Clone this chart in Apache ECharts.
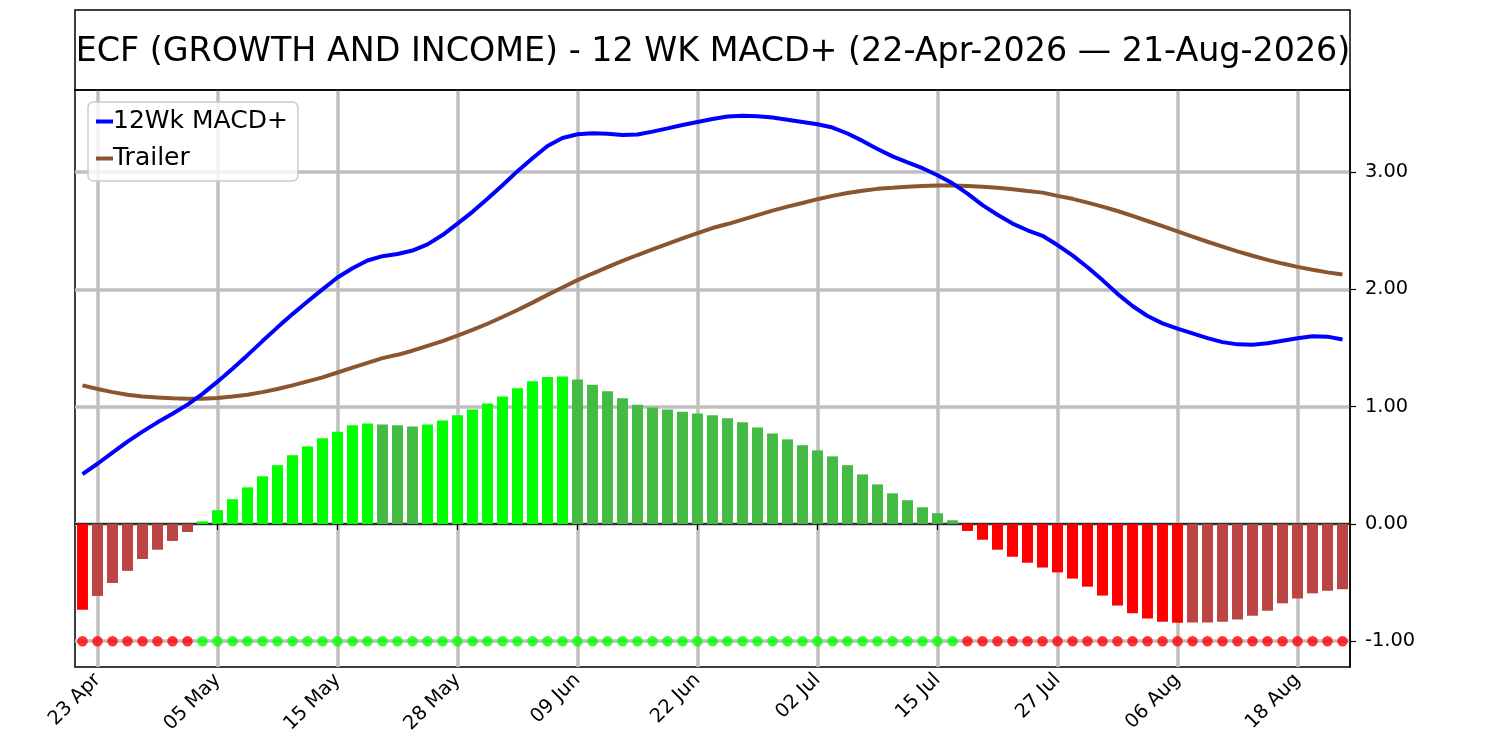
<!DOCTYPE html>
<html>
<head>
<meta charset="utf-8">
<script src="https://cdn.jsdelivr.net/npm/echarts@6/dist/echarts.min.js"></script>
<style>
  html, body { margin: 0; padding: 0; background: #fff; }
  #main { width: 1500px; height: 750px; }
</style>
</head>
<body>
<div id="main"></div>
<script>
const dates = [
  '22 Apr', '23 Apr', '24 Apr', '27 Apr', '28 Apr', '29 Apr', '30 Apr', '01 May',
  '04 May', '05 May', '06 May', '07 May', '08 May', '11 May', '12 May', '13 May',
  '14 May', '15 May', '18 May', '19 May', '20 May', '21 May', '22 May', '26 May',
  '27 May', '28 May', '29 May', '01 Jun', '02 Jun', '03 Jun', '04 Jun', '05 Jun',
  '08 Jun', '09 Jun', '10 Jun', '11 Jun', '12 Jun', '15 Jun', '16 Jun', '17 Jun',
  '18 Jun', '22 Jun', '23 Jun', '24 Jun', '25 Jun', '26 Jun', '29 Jun', '30 Jun',
  '01 Jul', '02 Jul', '06 Jul', '07 Jul', '08 Jul', '09 Jul', '10 Jul', '13 Jul',
  '14 Jul', '15 Jul', '16 Jul', '17 Jul', '20 Jul', '21 Jul', '22 Jul', '23 Jul',
  '24 Jul', '27 Jul', '28 Jul', '29 Jul', '30 Jul', '31 Jul', '03 Aug', '04 Aug',
  '05 Aug', '06 Aug', '07 Aug', '10 Aug', '11 Aug', '12 Aug', '13 Aug', '14 Aug',
  '17 Aug', '18 Aug', '19 Aug', '20 Aug', '21 Aug'
]

// 12Wk MACD+ (blue)
const macd = [
  0.425, 0.513, 0.608, 0.702, 0.787, 0.866, 0.939, 1.017, 1.109, 1.213,
  1.323, 1.439, 1.559, 1.676, 1.789, 1.896, 2.000, 2.101, 2.180, 2.246,
  2.283, 2.302, 2.331, 2.384, 2.463, 2.561, 2.661, 2.772, 2.888, 3.008,
  3.118, 3.222, 3.291, 3.323, 3.332, 3.326, 3.317, 3.320, 3.345, 3.373,
  3.402, 3.427, 3.452, 3.474, 3.480, 3.477, 3.465, 3.446, 3.427, 3.408,
  3.380, 3.329, 3.266, 3.197, 3.134, 3.083, 3.033, 2.973, 2.904, 2.816,
  2.718, 2.636, 2.561, 2.504, 2.457, 2.378, 2.290, 2.189, 2.079, 1.962,
  1.858, 1.773, 1.710, 1.666, 1.625, 1.584, 1.550, 1.531, 1.528, 1.540,
  1.562, 1.584, 1.600, 1.597, 1.572
]

// Trailer (brown)
const trailer = [
  1.181, 1.150, 1.124, 1.102, 1.087, 1.077, 1.071, 1.068, 1.068, 1.074,
  1.087, 1.102, 1.124, 1.150, 1.181, 1.216, 1.250, 1.291, 1.332, 1.373,
  1.414, 1.442, 1.477, 1.518, 1.559, 1.606, 1.654, 1.707, 1.764, 1.824,
  1.887, 1.953, 2.016, 2.079, 2.135, 2.189, 2.243, 2.293, 2.340, 2.387,
  2.435, 2.479, 2.523, 2.557, 2.595, 2.633, 2.671, 2.706, 2.737, 2.769,
  2.797, 2.822, 2.841, 2.857, 2.866, 2.876, 2.882, 2.885, 2.885, 2.882,
  2.876, 2.866, 2.854, 2.838, 2.825, 2.797, 2.772, 2.740, 2.706, 2.668,
  2.627, 2.583, 2.539, 2.494, 2.450, 2.406, 2.365, 2.324, 2.287, 2.252,
  2.220, 2.192, 2.167, 2.145, 2.126
]

// histogram bars
const hist = [
  -0.731, -0.614, -0.504, -0.400, -0.299, -0.220, -0.145, -0.069, 0.022, 0.117,
  0.211, 0.312, 0.406, 0.501, 0.586, 0.661, 0.731, 0.787, 0.841, 0.857,
  0.847, 0.841, 0.831, 0.847, 0.882, 0.926, 0.976, 1.027, 1.087, 1.156,
  1.216, 1.252, 1.257, 1.231, 1.187, 1.131, 1.071, 1.017, 0.992, 0.976,
  0.957, 0.942, 0.926, 0.901, 0.866, 0.822, 0.772, 0.721, 0.671, 0.627,
  0.576, 0.501, 0.422, 0.337, 0.261, 0.202, 0.142, 0.091, 0.031, -0.060,
  -0.135, -0.220, -0.280, -0.331, -0.372, -0.413, -0.466, -0.535, -0.611, -0.696,
  -0.762, -0.806, -0.835, -0.842, -0.841, -0.840, -0.835, -0.816, -0.784, -0.740,
  -0.677, -0.636, -0.592, -0.570, -0.557
]

const signalLevel = -1
const yTicks = [-1, 0, 1, 2, 3]

const chart = echarts.init(document.getElementById('main'), null, { renderer: 'canvas' })

const labelEvery = function (idx) {
  return idx % 8 === 1
}

const barData = hist.map(function (v, i) {
  const prev = i > 0 ? hist[i - 1] : 0
  let color
  if (v >= 0) {
    color = v >= prev ? '#00ff00' : '#44bb44'
  } else {
    color = v <= prev ? '#ff0000' : '#bb4444'
  }
  return { value: v, itemStyle: { color: color } }
})

const dotData = hist.map(function (v) {
  return { value: signalLevel, itemStyle: { color: v >= 0 ? '#00ff00' : '#ff0000' } }
})

const option = {
  animation: false,
  backgroundColor: '#fff',
  textStyle: { fontFamily: 'DejaVu Sans' },
  title: {
    text: 'ECF (GROWTH AND INCOME) - 12 WK MACD+ (22-Apr-2026 \u2014 21-Aug-2026)',
    left: 708,
    top: 31,
    textAlign: 'center',
    textStyle: {
      fontFamily: 'DejaVu Sans',
      fontSize: 33.35,
      fontWeight: 'normal',
      color: '#000'
    }
  },
  graphic: [
    {
      type: 'rect',
      shape: { x: 75, y: 10, width: 1275, height: 80 },
      style: { fill: 'none', stroke: '#000', lineWidth: 1.5 },
      z: 10
    }
  ],
  legend: {
    left: 88,
    top: 102,
    orient: 'vertical',
    padding: [7, 10, 10, 8],
    itemGap: 12,
    itemWidth: 17,
    itemHeight: 4,
    icon: 'rect',
    backgroundColor: 'rgba(255,255,255,0.8)',
    borderColor: '#cccccc',
    borderWidth: 1.5,
    borderRadius: 5,
    textStyle: { fontFamily: 'DejaVu Sans', fontSize: 25, color: '#000', padding: [0, 0, 0, -5] },
    data: ['12Wk MACD+', 'Trailer']
  },
  grid: {
    left: 75,
    right: 150,
    top: 90,
    bottom: 83,
    show: true,
    borderColor: '#000',
    borderWidth: 1.5,
    containLabel: false
  },
  xAxis: {
    type: 'category',
    data: dates,
    boundaryGap: true,
    axisLine: { show: true, lineStyle: { color: '#000', width: 1.5 } },
    axisTick: {
      show: true,
      alignWithLabel: true,
      interval: labelEvery,
      length: 6,
      lineStyle: { color: '#000', width: 1.2 }
    },
    axisLabel: {
      interval: labelEvery,
      rotate: 45,
      fontSize: 19.4,
      color: '#000',
      margin: 10
    },
    splitLine: {
      show: true,
      alignWithLabel: true,
      interval: labelEvery,
      lineStyle: { color: '#bfbfbf', width: 3.5 }
    }
  },
  yAxis: {
    type: 'value',
    position: 'right',
    min: -1.22,
    max: 3.70,
    splitNumber: 5,
    axisLine: { show: true, lineStyle: { color: '#000', width: 1.5 } },
    axisTick: { show: true, length: 6, lineStyle: { color: '#000', width: 1.2 } },
    axisLabel: {
      showMinLabel: false,
      showMaxLabel: false,
      fontSize: 19.4,
      color: '#000',
      margin: 15,
      formatter: function (v) {
        return yTicks.indexOf(Math.round(v * 100) / 100) >= 0 ? v.toFixed(2) : ''
      }
    },
    splitLine: {
      show: true,
      showMinLine: false,
      showMaxLine: false,
      lineStyle: { color: '#bfbfbf', width: 3.5 }
    }
  },
  series: [
    {
      name: 'Histogram',
      type: 'bar',
      data: barData,
      barWidth: '73%',
      z: 2
    },
    {
      name: '12Wk MACD+',
      type: 'line',
      data: macd,
      showSymbol: false,
      symbol: 'none',
      color: '#0000ff',
      lineStyle: { color: '#0000ff', width: 4 },
      z: 4
    },
    {
      name: 'Trailer',
      type: 'line',
      data: trailer,
      showSymbol: false,
      symbol: 'none',
      color: '#8b5530',
      lineStyle: { color: '#8b5530', width: 4 },
      z: 3
    },
    {
      name: 'Signal',
      type: 'scatter',
      data: dotData,
      symbol: 'circle',
      symbolSize: 10.5,
      z: 5
    }
  ]
}

chart.setOption(option)
</script>
</body>
</html>
